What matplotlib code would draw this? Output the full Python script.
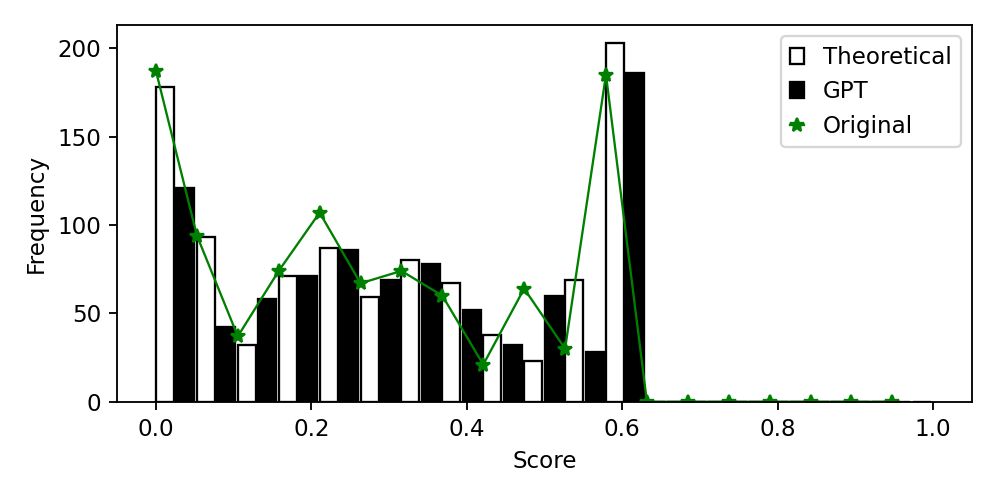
import numpy as np
import matplotlib
matplotlib.use("Agg")
import matplotlib.pyplot as plt

# ================== Data ==================
# 19 score bins between 0 and 1 (left edges)
bin_edges = np.linspace(0, 1, 20)
scores = bin_edges[:-1]

theoretical = [178, 93, 32, 71, 87, 59, 80, 67, 38, 23, 69, 203, 0, 0, 0, 0, 0, 0, 0]
gpt = [121, 42, 58, 71, 86, 69, 78, 52, 32, 60, 28, 186, 0, 0, 0, 0, 0, 0, 0]
original = [187, 94, 37, 74, 107, 67, 74, 60, 21, 64, 30, 185, 0, 0, 0, 0, 0, 0, 0]

# ================== Plot ==================
dpi = 166
bin_w = bin_edges[1] - bin_edges[0]
bar_w = 0.44 * bin_w

fig, ax = plt.subplots(figsize=(997 / dpi, 498 / dpi), dpi=dpi)

b1 = ax.bar(scores, theoretical, width=bar_w, align='edge',
            color='white', edgecolor='black', linewidth=1.0, label='Theoretical')
b2 = ax.bar(scores + bin_w / 2, gpt, width=bar_w, align='edge',
            color='black', edgecolor='black', linewidth=1.0, label='GPT')
l1, = ax.plot(scores, original, marker='*', color='green', linewidth=1.0,
              markersize=6, label='Original')

ax.set_xlim(-0.05, 1.05)
ax.set_xlabel('Score')
ax.set_ylabel('Frequency')
ax.legend(handles=[b1, b2, l1], loc='upper right', handlelength=0.6)

plt.tight_layout()
plt.savefig('out.png', dpi=dpi)
